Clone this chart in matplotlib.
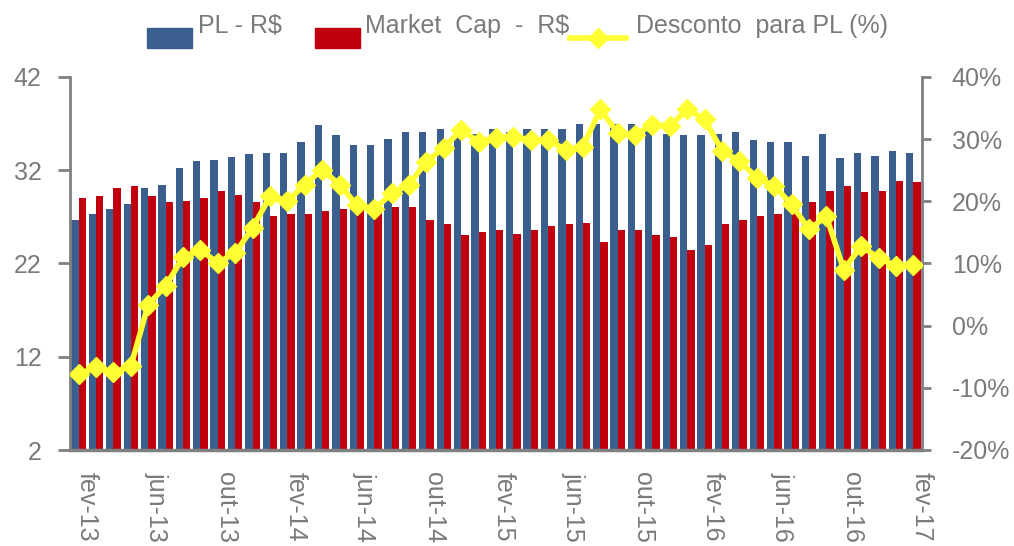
import matplotlib
matplotlib.use("Agg")
import matplotlib.pyplot as plt
import matplotlib.transforms as mtransforms
from matplotlib.patches import Rectangle
from matplotlib.lines import Line2D
import numpy as np

plt.rcParams['font.family'] = ['Liberation Sans', 'DejaVu Sans']

# monthly data, fev-13 .. fev-17
pl = [26.7, 27.3, 27.8, 28.4, 30.1, 30.4, 32.25, 33.0, 33.15, 33.4,
      33.7, 33.9, 33.9, 35.0, 36.9, 35.8, 34.7, 34.7, 35.3, 36.1,
      36.1, 36.4, 36.1, 35.9, 36.4, 36.1, 36.4, 36.4, 36.4, 37.0,
      37.0, 37.0, 37.0, 36.5, 35.9, 35.8, 35.8, 35.9, 36.1, 35.2,
      35.0, 35.0, 33.5, 35.9, 33.3, 33.9, 33.5, 34.1, 33.9]
market_cap = [29.0, 29.2, 30.1, 30.3, 29.2, 28.6, 28.7, 29.0, 29.8, 29.3,
              28.6, 27.1, 27.3, 27.3, 27.6, 27.8, 28.0, 28.2, 28.1, 28.1,
              26.7, 26.2, 25.1, 25.4, 25.6, 25.2, 25.6, 26.0, 26.2, 26.3,
              24.3, 25.6, 25.6, 25.1, 24.8, 23.5, 24.0, 26.2, 26.7, 27.1,
              27.3, 28.6, 28.6, 29.8, 30.3, 29.7, 29.8, 30.9, 30.7]
desconto = [-7.8, -6.7, -7.5, -6.5, 3.4, 6.4, 11.0, 12.2, 10.1, 11.7,
            15.7, 20.8, 20.0, 22.7, 25.1, 22.7, 19.4, 18.7, 21.3, 22.7,
            26.4, 28.6, 31.5, 29.6, 30.2, 30.4, 29.9, 29.9, 28.3, 28.8,
            34.8, 31.0, 30.7, 32.3, 32.1, 34.8, 33.2, 28.1, 26.5, 23.8,
            22.5, 19.5, 15.5, 17.6, 9.0, 12.8, 10.9, 9.6, 9.8]
tick_labels = ['fev-13', 'jun-13', 'out-13', 'fev-14', 'jun-14', 'out-14', 'fev-15',
               'jun-15', 'out-15', 'fev-16', 'jun-16', 'out-16', 'fev-17']
left_ticks = [2, 12, 22, 32, 42]
right_ticks = [-20, -10, 0, 10, 20, 30, 40]

blue = '#3a5f8e'
red = '#c0000f'
yellow = '#ffff33'
gray = '#808080'
txt_gray = '#7a7a7a'

W, H = 1014, 546
fig = plt.figure(figsize=(W / 100, H / 100), dpi=100)
ax = fig.add_axes([70 / W, 1 - 450 / H, (922 - 70) / W, (450 - 77) / H])

x = np.arange(len(pl))
bw = 0.42
ax.bar(x - bw / 2, pl, width=bw, color=blue, zorder=2)
ax.bar(x + bw / 2, market_cap, width=bw, color=red, zorder=2)
ax.set_xlim(-0.5, len(pl) - 0.5)
ax.set_ylim(2, 42)
ax.set_yticks(left_ticks)
ax.set_xticks(x[::4])
ax.set_xticklabels(tick_labels, rotation=-90, va='top', ha='center')
ax.tick_params(axis='x', length=0, pad=16, labelsize=18, labelcolor=txt_gray)
ax.tick_params(axis='y', direction='out', length=8.6, width=2, color=gray,
               pad=12, labelsize=18, labelcolor=txt_gray)
offset = mtransforms.ScaledTranslation(8 / 100, 0, fig.dpi_scale_trans)
for lbl in ax.get_xticklabels():
    lbl.set_transform(lbl.get_transform() + offset)
for s in ['top', 'right']:
    ax.spines[s].set_visible(False)
ax.spines['left'].set_color(gray)
ax.spines['left'].set_linewidth(2)
ax.spines['bottom'].set_color(gray)
ax.spines['bottom'].set_linewidth(2.5)

ax2 = ax.twinx()
ax2.plot(x, np.array(desconto) / 100, color=yellow, lw=4, marker='D',
         markersize=10, markeredgecolor=yellow, zorder=3)
ax2.set_ylim(-0.2, 0.4)
ax2.set_yticks(np.array(right_ticks) / 100)
ax2.set_yticklabels([f'{v}%' for v in right_ticks])
ax2.tick_params(axis='y', direction='out', length=6.5, width=2, color=gray,
                pad=15, labelsize=18, labelcolor=txt_gray)
for s in ['top', 'left', 'bottom']:
    ax2.spines[s].set_visible(False)
ax2.spines['right'].set_color(gray)
ax2.spines['right'].set_linewidth(2)


def fx(px):
    return px / W


def fy(py):
    return 1 - py / H


# legend drawn by hand (handles sit lower than the text, as in the original)
fig.add_artist(Rectangle((fx(147), fy(48)), 45 / W, 20 / H, color=blue,
                         transform=fig.transFigure))
fig.text(fx(198), fy(33), 'PL - R$', fontsize=18, color=txt_gray, va='baseline')
fig.add_artist(Rectangle((fx(315), fy(48)), 45 / W, 20 / H, color=red,
                         transform=fig.transFigure))
fig.text(fx(365), fy(33), 'Market  Cap  -  R$', fontsize=18, color=txt_gray, va='baseline')
fig.add_artist(Line2D([fx(570), fx(626)], [fy(38), fy(38)], color=yellow, lw=4,
                      transform=fig.transFigure))
fig.add_artist(Line2D([fx(598)], [fy(38)], color=yellow, marker='D', markersize=10,
                      transform=fig.transFigure))
fig.text(fx(636), fy(33), 'Desconto  para PL (%)', fontsize=18, color=txt_gray,
         va='baseline')

fig.savefig('out.png', dpi=100)
